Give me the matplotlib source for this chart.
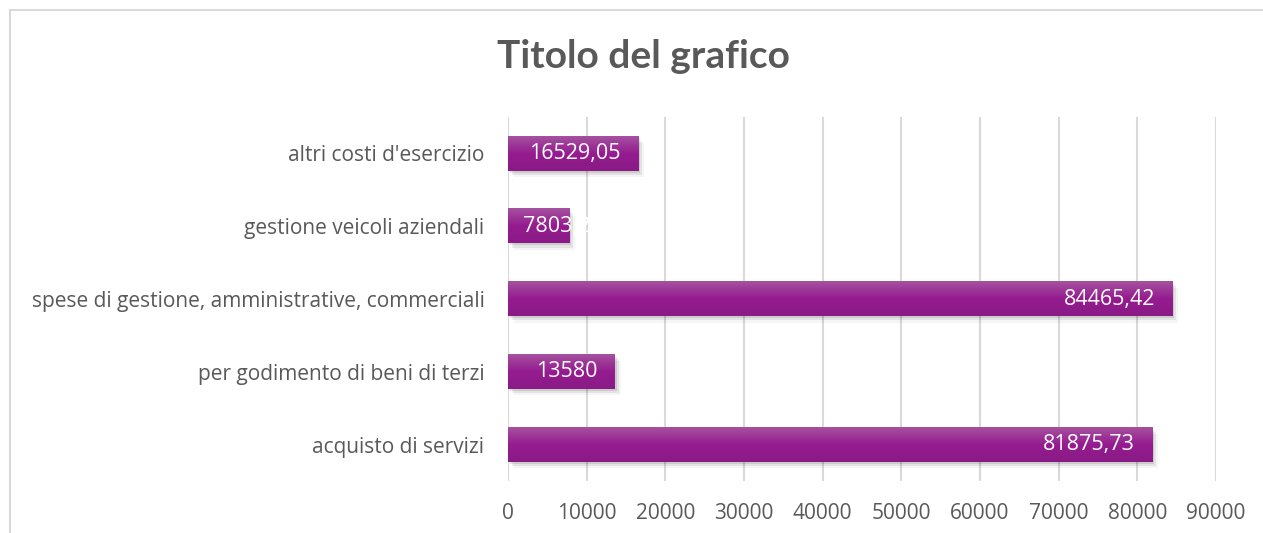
import matplotlib.pyplot as plt
import numpy as np
from matplotlib.patches import Rectangle
from matplotlib.colors import LinearSegmentedColormap

# dati (dal basso verso l'alto)
categorie = [
    "acquisto di servizi",
    "per godimento di beni di terzi",
    "spese di gestione, amministrative, commerciali",
    "gestione veicoli aziendali",
    "altri costi d'esercizio",
]
valori = [81875.73, 13580, 84465.42, 7803.25, 16529.05]
tick_x = [0, 10000, 20000, 30000, 40000, 50000, 60000, 70000, 80000, 90000]
titolo = "Titolo del grafico"

def fmt(v):
    s = f"{v:.2f}".rstrip("0").rstrip(".")
    return s.replace(".", ",")

plt.rcParams["font.family"] = ["Open Sans", "DejaVu Sans"]
grigio = "#595959"

fig = plt.figure(figsize=(12.63, 5.33), dpi=100)
ax = fig.add_axes([508 / 1263, 1 - 481 / 533, 708 / 1263, 364 / 533])

# bordo del grafico
fig.patches.append(Rectangle((10 / 1263, -0.05), 1.5, 1 - 10 / 533 + 0.05,
                             transform=fig.transFigure, fill=False,
                             edgecolor="#D9D9D9", lw=1.5, zorder=0))

ypos = np.arange(len(categorie))
h = 0.47
cmap = LinearSegmentedColormap.from_list("viola", ["#8A1A86", "#951C90", "#A5519F"])
grad = np.linspace(0, 1, 100).reshape(-1, 1)

for y, v in zip(ypos, valori):
    # ombra
    for k, a in enumerate([0.10, 0.07, 0.04]):
        ax.add_patch(Rectangle((0 + 250 * (k + 1), y - h / 2 - 0.03 * (k + 1)), v, h,
                               facecolor="black", alpha=a, lw=0, zorder=2))
    ax.imshow(grad, cmap=cmap, aspect="auto", origin="lower",
              extent=[0, v, y - h / 2, y + h / 2], zorder=3)
    testo = fmt(v)
    if v > 12000:
        ax.text(v - 2200, y, testo, ha="right", va="center", color="white",
                fontsize=15.5, zorder=4)
    else:
        ax.text(1900, y, testo, ha="left", va="center", color="white",
                fontsize=15.5, zorder=4)

ax.set_xlim(0, 90000)
ax.set_ylim(-0.5, len(categorie) - 0.5)
ax.set_xticks(tick_x)
ax.set_xticklabels([str(t) for t in tick_x])
ax.set_yticks(ypos)
ax.set_yticklabels(categorie)
ax.tick_params(length=0, labelsize=15, colors=grigio)
ax.tick_params(axis="x", pad=16)
ax.tick_params(axis="y", pad=17)
for s in ax.spines.values():
    s.set_visible(False)
ax.grid(axis="x", color="#D9D9D9", lw=1.5, zorder=1)
ax.set_axisbelow(True)

fig.text(643 / 1263, 1 - 57 / 533, titolo, ha="center", va="center",
         fontsize=28, fontweight="bold", color=grigio, family=["Lato", "DejaVu Sans"])

fig.savefig("out.png", dpi=100)
